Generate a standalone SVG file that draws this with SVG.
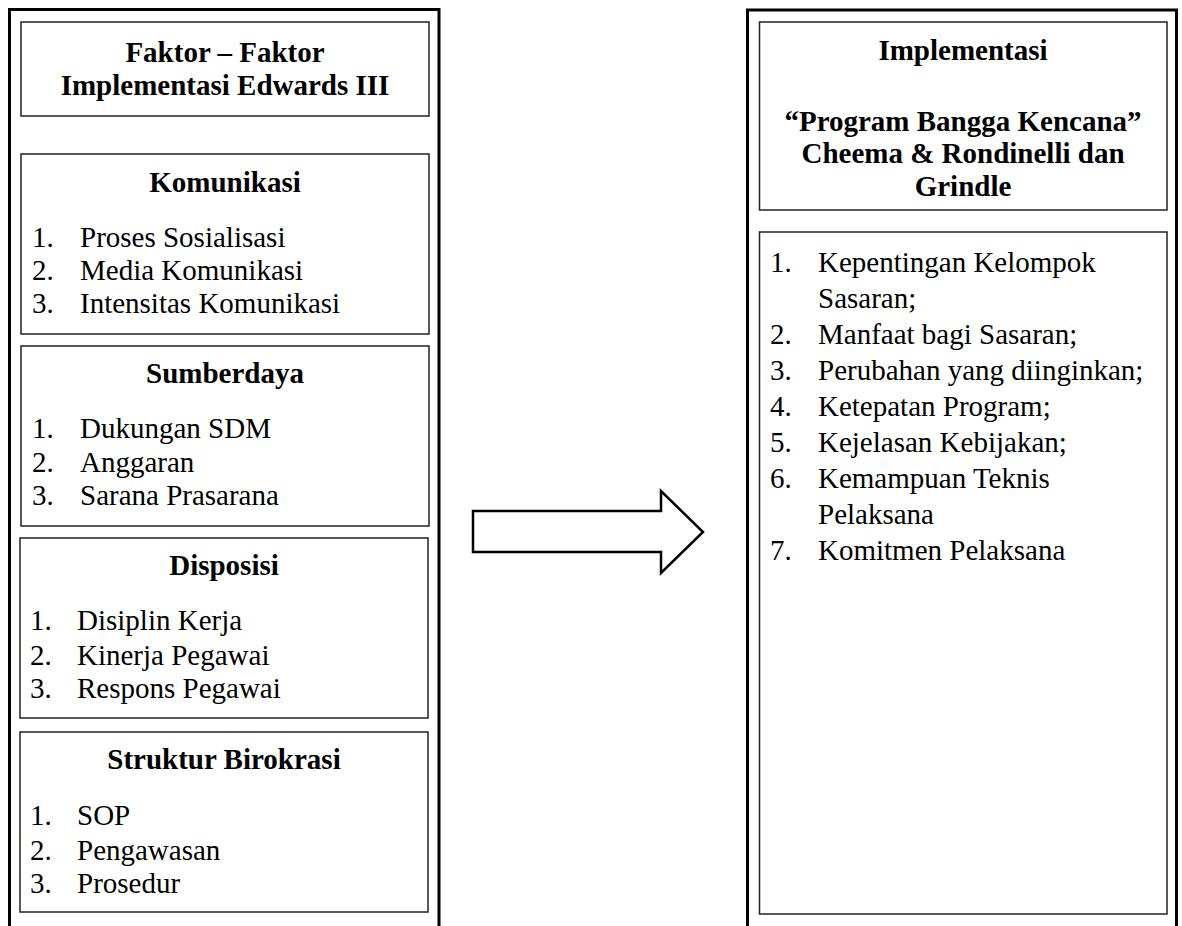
<svg xmlns="http://www.w3.org/2000/svg" width="1182" height="926" viewBox="0 0 1182 926">
<style>
.outer{fill:none;stroke:#000;stroke-width:3}
.box{fill:#fff;stroke:#222;stroke-width:1.5}
text{font-family:"Liberation Serif","Times New Roman",serif;font-size:29px;fill:#000}
.h{font-weight:bold;text-anchor:middle}
.arrow{fill:#fff;stroke:#000;stroke-width:2.5;stroke-linejoin:miter}
</style>
<rect width="1182" height="926" fill="#fff"/>
<g id="left-panel">
<path class="outer" d="M9.5,926 V9.5 H439 V926"/>
</g>
<g id="title-left">
<rect class="box" x="21" y="22" width="408" height="94"/>
<text class="h" x="225" y="62">Faktor – Faktor</text>
<text class="h" x="225" y="95">Implementasi Edwards III</text>
</g>
<g id="komunikasi">
<rect class="box" x="21" y="154" width="408" height="180"/>
<text class="h" x="225" y="192">Komunikasi</text>
<text x="32" y="247">1.</text><text x="80" y="247">Proses Sosialisasi</text>
<text x="32" y="280">2.</text><text x="80" y="280">Media Komunikasi</text>
<text x="32" y="313">3.</text><text x="80" y="313">Intensitas Komunikasi</text>
</g>
<g id="sumberdaya">
<rect class="box" x="21" y="346" width="408" height="180"/>
<text class="h" x="225" y="383">Sumberdaya</text>
<text x="32" y="438">1.</text><text x="80" y="438">Dukungan SDM</text>
<text x="32" y="472">2.</text><text x="80" y="472">Anggaran</text>
<text x="32" y="505">3.</text><text x="80" y="505">Sarana Prasarana</text>
</g>
<g id="disposisi">
<rect class="box" x="20" y="538" width="408" height="180"/>
<text class="h" x="224" y="575">Disposisi</text>
<text x="30" y="630">1.</text><text x="77" y="630">Disiplin Kerja</text>
<text x="30" y="665">2.</text><text x="77" y="665">Kinerja Pegawai</text>
<text x="30" y="698">3.</text><text x="77" y="698">Respons Pegawai</text>
</g>
<g id="struktur">
<rect class="box" x="20" y="732" width="408" height="180"/>
<text class="h" x="224" y="769">Struktur Birokrasi</text>
<text x="30" y="825">1.</text><text x="77" y="825">SOP</text>
<text x="30" y="860">2.</text><text x="77" y="860">Pengawasan</text>
<text x="30" y="893">3.</text><text x="77" y="893">Prosedur</text>
</g>
<g id="connectors">
<polygon class="arrow" points="473,511 661,511 661,491 703,532 661,573 661,552 473,552"/>
</g>
<g id="right-panel">
<path class="outer" d="M747.5,926 V10 H1176.5 V926"/>
</g>
<g id="title-right">
<rect class="box" x="759.5" y="22" width="407.5" height="188"/>
<text class="h" x="963" y="60">Implementasi</text>
<text class="h" x="963" y="131">“Program Bangga Kencana”</text>
<text class="h" x="963" y="163">Cheema &amp; Rondinelli dan</text>
<text class="h" x="963" y="196">Grindle</text>
</g>
<g id="list-right">
<rect class="box" x="759.5" y="232" width="407.5" height="682"/>
<text x="770" y="272">1.</text><text x="818" y="272">Kepentingan Kelompok</text>
<text x="818" y="308">Sasaran;</text>
<text x="770" y="344">2.</text><text x="818" y="344">Manfaat bagi Sasaran;</text>
<text x="770" y="380">3.</text><text x="818" y="380">Perubahan yang diinginkan;</text>
<text x="770" y="416">4.</text><text x="818" y="416">Ketepatan Program;</text>
<text x="770" y="452">5.</text><text x="818" y="452">Kejelasan Kebijakan;</text>
<text x="770" y="488">6.</text><text x="818" y="488">Kemampuan Teknis</text>
<text x="818" y="524">Pelaksana</text>
<text x="770" y="560">7.</text><text x="818" y="560">Komitmen Pelaksana</text>
</g>
</svg>
